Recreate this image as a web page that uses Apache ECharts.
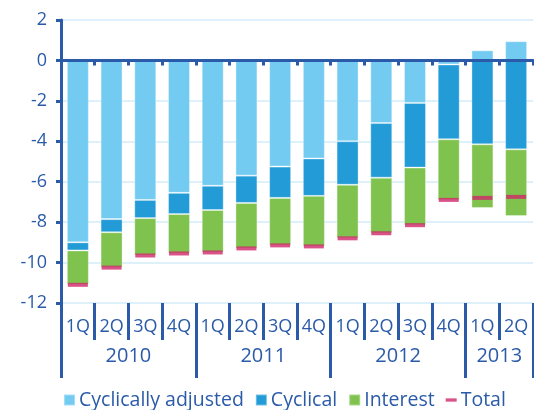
<!DOCTYPE html>
<html>
<head>
<meta charset="utf-8">
<script src="https://cdn.jsdelivr.net/npm/echarts@6/dist/echarts.min.js"></script>
<style>
  html, body { margin: 0; padding: 0; background: #fff; }
  #chart { width: 534px; height: 410px; }
</style>
</head>
<body>
<div id="chart"></div>
<script>
const quarters = ['1Q', '2Q', '3Q', '4Q', '1Q', '2Q', '3Q', '4Q', '1Q', '2Q', '3Q', '4Q', '1Q', '2Q']
const years = ['2010', '2011', '2012', '2013']
const yearCenters = [2, 6, 10, 13]
const yearBounds = [0, 4, 8, 12, 14]
const cyclicallyAdjusted = [-9.0, -7.85, -6.9, -6.55, -6.2, -5.7, -5.25, -4.85, -4.0, -3.1, -2.1, -0.2, 0.5, 0.95]
const cyclical = [-0.4, -0.65, -0.9, -1.05, -1.2, -1.35, -1.55, -1.85, -2.15, -2.7, -3.2, -3.7, -4.15, -4.4]
const interest = [-1.7, -1.75, -1.85, -1.95, -2.1, -2.25, -2.35, -2.5, -2.65, -2.75, -2.85, -3.0, -3.15, -3.3]
const total = [-11.1, -10.25, -9.65, -9.55, -9.5, -9.3, -9.15, -9.2, -8.8, -8.55, -8.15, -6.9, -6.8, -6.75]

const dark = '#2a5aa8'
const font = 'Open Sans'
const colors = ['#74cbf1', '#239bd6', '#7fc24e', '#d0286a']

const chart = echarts.init(document.getElementById('chart'))

const barBase = {
  type: 'bar',
  stack: 'all',
  barWidth: 22,
  xAxisIndex: 0,
  itemStyle: { borderColor: 'rgba(255,255,255,0.35)', borderWidth: 1 }
}

const option = {
  color: colors,
  animation: false,
  textStyle: { fontFamily: font },
  grid: { left: 61, right: 1, top: 20, bottom: 107, outerBoundsMode: 'none' },
  legend: {
    left: 58,
    top: 385,
    itemWidth: 11,
    itemHeight: 11,
    itemGap: 11,
    textStyle: { color: dark, fontSize: 19.5, fontFamily: font, padding: [0, 0, 0, -1] },
    data: [
      { name: 'Cyclically adjusted', icon: 'rect' },
      { name: 'Cyclical', icon: 'rect' },
      { name: 'Interest', icon: 'rect' },
      { name: 'Total', icon: 'path://M0,0 H10 V3 H0 Z' }
    ]
  },
  xAxis: [
    {
      type: 'category',
      data: quarters,
      position: 'bottom',
      z: 10,
      axisLine: { onZero: true, lineStyle: { color: dark, width: 3 } },
      axisTick: { show: true, length: 5, lineStyle: { color: dark, width: 3 } },
      axisLabel: { show: false }
    },
    {
      type: 'category',
      data: quarters,
      position: 'bottom',
      axisLine: { show: false, onZero: false },
      axisTick: { show: true, length: 37, lineStyle: { color: dark, width: 3 } },
      axisLabel: { color: dark, fontSize: 18, margin: 15, fontFamily: font }
    },
    {
      type: 'value',
      min: 0,
      max: 14,
      position: 'bottom',
      splitLine: { show: false },
      axisLine: { show: false, onZero: false },
      axisTick: { show: true, length: 75, customValues: yearBounds, lineStyle: { color: dark, width: 3 } },
      axisLabel: {
        color: dark,
        fontSize: 20,
        margin: 43,
        fontFamily: font,
        customValues: yearCenters,
        formatter: (v) => years[yearCenters.indexOf(v)] || ''
      }
    }
  ],
  yAxis: {
    type: 'value',
    min: -12,
    max: 2,
    interval: 2,
    axisLine: { show: true, onZero: false, lineStyle: { color: dark, width: 3 } },
    axisTick: { show: true, length: 5, lineStyle: { color: dark, width: 3 } },
    axisLabel: { color: dark, fontSize: 18, margin: 14, fontFamily: font },
    splitLine: { lineStyle: { color: '#d3ecf8', width: 1.5 } }
  },
  series: [
    Object.assign({}, barBase, { name: 'Cyclically adjusted', data: cyclicallyAdjusted }),
    Object.assign({}, barBase, { name: 'Cyclical', data: cyclical }),
    Object.assign({}, barBase, { name: 'Interest', data: interest }),
    {
      name: 'Total',
      type: 'scatter',
      xAxisIndex: 0,
      symbol: 'rect',
      symbolSize: [20, 4],
      z: 5,
      data: total
    }
  ]
}

chart.setOption(option)
</script>
</body>
</html>
